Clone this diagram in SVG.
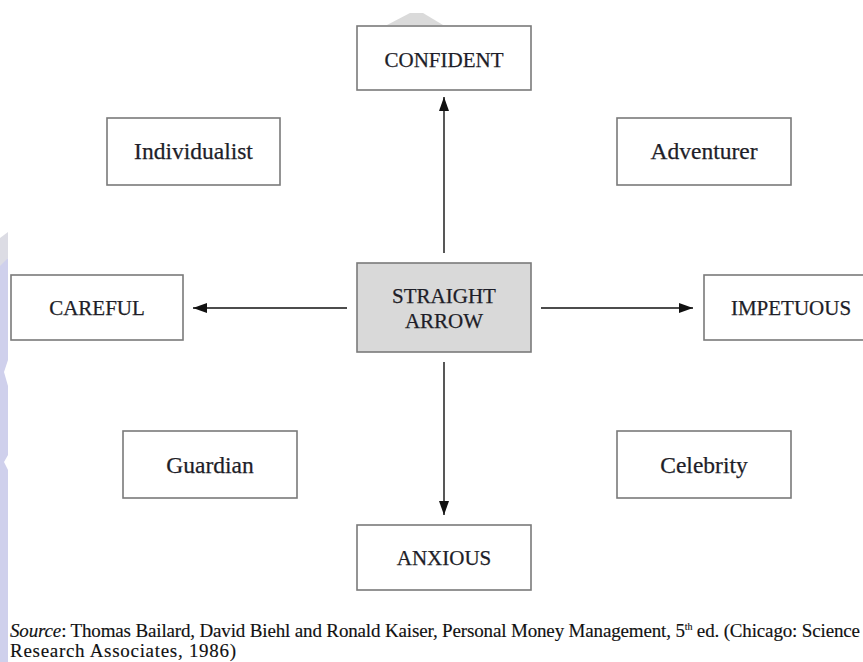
<svg xmlns="http://www.w3.org/2000/svg" width="863" height="662" viewBox="0 0 863 662">
  <style>
    .box { fill: #ffffff; stroke: #7a7a7a; stroke-width: 1.6; }
    .center { fill: #d9d9d9; stroke: #7a7a7a; stroke-width: 1.6; }
    .lbl { fill: #1e1e28; text-anchor: middle; stroke: #1e1e28; stroke-width: 0.25; }
    .caps { font-size: 21px; }
    .mixed { font-size: 23.5px; }
    .conn { stroke: #111; stroke-width: 1.4; fill: none; marker-end: url(#ah); }
    .src { font-size: 19px; fill: #111; stroke: #111; stroke-width: 0.15; }
  </style>
  <defs>
    <marker id="ah" viewBox="0 0 14 10" refX="14" refY="5" markerWidth="14" markerHeight="10" markerUnits="userSpaceOnUse" orient="auto">
      <path d="M0,0 L14,5 L0,10 Z" fill="#111"/>
    </marker>
  </defs>
  <rect width="863" height="662" fill="#ffffff"/>
  <g id="watermark">
    <path d="M0,262 L8,258 L8,360 L4,372 L8,386 L8,455 L4,462 L8,470 L8,662 L0,662 Z" fill="#cfd0ec"/>
    <path d="M0,238 L8,232 L8,258 L0,266 Z" fill="#dcdce4"/>
    <path d="M387,25 L410,13 L423,13 L443,25 Z" fill="#dadada"/>
  </g>
  <g id="connectors">
    <line class="conn" x1="444" y1="253" x2="444" y2="97"/>
    <line class="conn" x1="444" y1="362" x2="444" y2="515"/>
    <line class="conn" x1="347" y1="308" x2="193" y2="308"/>
    <line class="conn" x1="541" y1="308" x2="693" y2="308"/>
  </g>
  <g font-family="'Liberation Serif', 'DejaVu Serif', serif">
  <g id="confident">
    <rect class="box" x="357" y="26" width="174" height="64"/>
    <text class="lbl caps" x="444" y="67">CONFIDENT</text>
  </g>
  <g id="individualist">
    <rect class="box" x="107" y="118" width="173" height="67"/>
    <text class="lbl mixed" x="193.5" y="159">Individualist</text>
  </g>
  <g id="adventurer">
    <rect class="box" x="617" y="118" width="174" height="67"/>
    <text class="lbl mixed" x="704" y="159">Adventurer</text>
  </g>
  <g id="straight-arrow">
    <rect class="center" x="357" y="263" width="174" height="89"/>
    <text class="lbl caps" x="444" y="303">STRAIGHT</text>
    <text class="lbl caps" x="444" y="328">ARROW</text>
  </g>
  <g id="careful">
    <rect class="box" x="11" y="275" width="172" height="65"/>
    <text class="lbl caps" x="97" y="315">CAREFUL</text>
  </g>
  <g id="impetuous">
    <rect class="box" x="704" y="275" width="174" height="65"/>
    <text class="lbl caps" x="791" y="315">IMPETUOUS</text>
  </g>
  <g id="guardian">
    <rect class="box" x="123" y="431" width="174" height="67"/>
    <text class="lbl mixed" x="210" y="473">Guardian</text>
  </g>
  <g id="celebrity">
    <rect class="box" x="617" y="431" width="174" height="67"/>
    <text class="lbl mixed" x="704" y="473">Celebrity</text>
  </g>
  <g id="anxious">
    <rect class="box" x="357" y="525" width="174" height="65"/>
    <text class="lbl caps" x="444" y="565">ANXIOUS</text>
  </g>
  <g id="source">
    <text class="src" x="10" y="637" textLength="850" lengthAdjust="spacing"><tspan font-style="italic">Source</tspan>: Thomas Bailard, David Biehl and Ronald Kaiser, Personal Money Management, 5<tspan font-size="10px" dy="-7">th</tspan><tspan dy="7"> ed. (Chicago: Science</tspan></text>
    <text class="src" x="10" y="657" textLength="226" lengthAdjust="spacing">Research Associates, 1986)</text>
  </g>
  </g>
</svg>
